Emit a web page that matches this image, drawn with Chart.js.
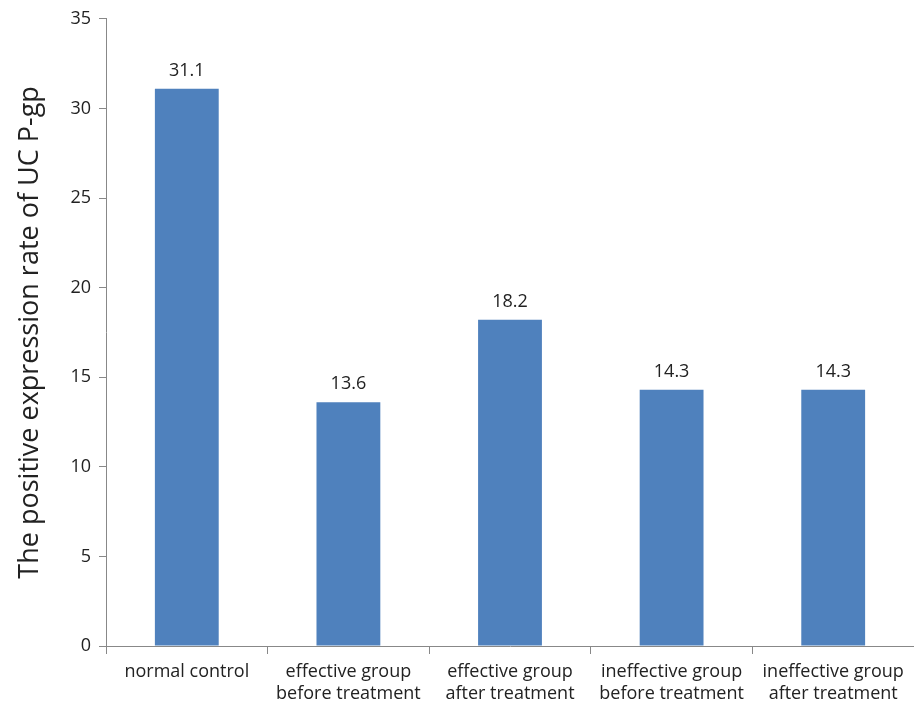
<!DOCTYPE html>
<html>
<head>
<meta charset="utf-8">
<script src="https://cdn.jsdelivr.net/npm/chart.js@4"></script>
<style>
  html, body { margin: 0; padding: 0; background: #fff; }
  #wrap { width: 914px; height: 710px; }
</style>
</head>
<body>
<div id="wrap"><canvas id="barChart" width="914" height="710"></canvas></div>
<script>
// Dados do gráfico
const categories = [
    ['normal control'],
    ['effective group', 'before treatment'],
    ['effective group', 'after treatment'],
    ['ineffective group', 'before treatment'],
    ['ineffective group', 'after treatment']
];
const rates = [31.1, 13.6, 18.2, 14.3, 14.3];
const yTicks = [0, 5, 10, 15, 20, 25, 30, 35];

const FONT = "'Open Sans', 'Liberation Sans', sans-serif";
const TEXT = '#222';

// Plugin simples para escrever o valor em cima de cada barra
const valueLabels = {
    id: 'valueLabels',
    afterDatasetsDraw(chart) {
        const ctx = chart.ctx;
        const meta = chart.getDatasetMeta(0);
        ctx.save();
        ctx.font = '18px ' + FONT;
        ctx.fillStyle = TEXT;
        ctx.textAlign = 'center';
        ctx.textBaseline = 'bottom';
        meta.data.forEach((bar, i) => {
            ctx.fillText(rates[i].toFixed(1), bar.x, bar.y - 9);
        });
        ctx.restore();
    }
};

const barCtx = document.getElementById('barChart').getContext('2d');
const barChart = new Chart(barCtx, {
    type: 'bar',
    data: {
        labels: categories,
        datasets: [{
            data: rates,
            backgroundColor: '#4f81bd',
            borderWidth: 0,
            barPercentage: 0.395,
            categoryPercentage: 1
        }]
    },
    options: {
        responsive: false,
        animation: false,
        layout: { padding: { top: 14, right: 0, left: 0, bottom: 0 } },
        plugins: {
            legend: { display: false },
            tooltip: { enabled: false }
        },
        scales: {
            x: {
                offset: true,
                grid: {
                    offset: true,
                    drawOnChartArea: false,
                    color: '#888',
                    tickLength: 8
                },
                border: { color: '#888', width: 1 },
                ticks: {
                    color: TEXT,
                    font: { family: FONT, size: 18 },
                    maxRotation: 0,
                    autoSkip: false,
                    padding: 7
                },
                afterFit(scale) { scale.height = 64; }
            },
            y: {
                min: 0,
                max: 35,
                afterBuildTicks(scale) {
                    scale.ticks = yTicks.map(v => ({ value: v }));
                },
                grid: {
                    drawOnChartArea: false,
                    color: '#888',
                    tickLength: 7
                },
                border: { color: '#888', width: 1 },
                ticks: {
                    color: TEXT,
                    font: { family: FONT, size: 18 },
                    padding: 8
                },
                title: {
                    display: true,
                    text: 'The positive expression rate of UC P-gp',
                    color: TEXT,
                    font: { family: FONT, size: 27 },
                    padding: { top: 14, bottom: 10 }
                },
                afterFit(scale) { scale.width = 106; }
            }
        }
    },
    plugins: [valueLabels]
});
</script>
</body>
</html>
